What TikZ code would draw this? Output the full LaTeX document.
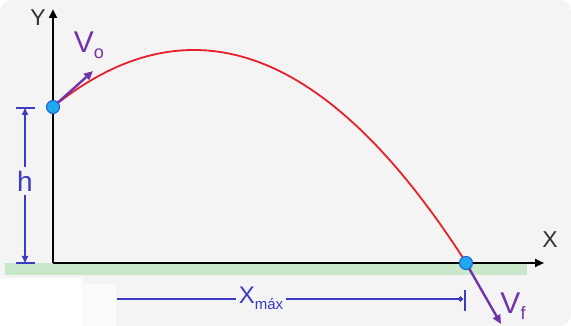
\documentclass[tikz,border=0pt]{standalone}
\usepackage{fontspec}
\setmainfont{Liberation Sans}
\usetikzlibrary{arrows.meta}
\definecolor{bggray}{HTML}{F4F4F4}
\definecolor{groundgreen}{HTML}{C9E8CB}
\definecolor{curvered}{HTML}{E8202A}
\definecolor{vecpurple}{HTML}{7034A8}
\definecolor{dimblue}{HTML}{3B3BC4}
\definecolor{ptblue}{HTML}{1FA8F0}
\definecolor{ptborder}{HTML}{1A5FD0}
\tikzset{
  axis/.style={line width=2.6pt, black, -{Triangle[length=9pt,width=8pt]}},
  vec/.style={line width=2.4pt, vecpurple, -{Triangle[length=9pt,width=8pt]}},
  dimline/.style={line width=1.6pt, dimblue},
  dimlab/.style={text=dimblue, inner sep=0pt},
  veclab/.style={text=vecpurple, inner sep=0pt},
  ptdot/.style={circle, fill=ptblue, draw=ptborder, line width=1pt, minimum size=13pt, inner sep=0pt},
}
\begin{document}
\begin{tikzpicture}[x=1pt,y=-1pt]
\useasboundingbox (0,0) rectangle (571,326);
\fill[bggray, rounded corners=12pt] (0,0) rectangle (571,326);
\fill[white] (0,278) rectangle (82,326);
\fill[white!60!bggray] (82,284) rectangle (116,326);
% ground
\fill[groundgreen] (5,263) rectangle (527,275);
% axes
\coordinate (O) at (53,263);
\coordinate (Ytop) at (53,9);
\coordinate (Xend) at (544,263);
\draw[axis] (O) -- (Ytop);
\draw[axis] (O) -- (Xend);
\node[inner sep=0pt, text=black!80, font=\fontsize{23}{23}\selectfont] (ylab) at (38,18) {Y};
\node[inner sep=0pt, text=black!80, font=\fontsize{23}{23}\selectfont] (xlab) at (550,240) {X};
% trajectory
\coordinate (A) at (53,107);
\coordinate (B) at (466,263);
\draw[curvered, line width=1.8pt] plot[domain=53:466, samples=80, smooth] (\x, {50+0.002875*(\x-193.8)*(\x-193.8)});
% velocity vectors
\coordinate (V0tip) at (93,71);
\coordinate (Vftip) at (501,324);
\draw[vec] (A) -- (V0tip);
\draw[vec] (B) -- (Vftip);
\node[veclab, font=\fontsize{30}{30}\selectfont] (v0) at (89,45) {V\raisebox{-0.35ex}{\fontsize{18}{18}\selectfont o}};
\node[veclab, font=\fontsize{30}{30}\selectfont] (vf) at (513,306) {V\raisebox{-0.4ex}{\fontsize{18}{18}\selectfont f}};
% points
\node[ptdot] (p0) at (A) {};
\node[ptdot] (p1) at (B) {};
% h dimension
\coordinate (hT) at (25,108);
\coordinate (hB) at (25,263);
\node[dimlab, font=\fontsize{28}{28}\selectfont] (hlab) at (25,181) {h};
\draw[dimline] (16,108) -- (35,108);
\draw[dimline] (16,263) -- (35,263);
\draw[dimline, -{Triangle[length=7pt,width=6pt]}] (hlab.north) ++(0,-4) -- (hT);
\draw[dimline, -{Triangle[length=7pt,width=6pt]}] (hlab.south) ++(0,4) -- (hB);
% X max dimension
\coordinate (xL) at (117,299);
\coordinate (xR) at (463,299);
\node[dimlab, font=\fontsize{24}{24}\selectfont] (xmax) at (261,298) {X\raisebox{-0.5ex}{\fontsize{15}{15}\selectfont máx}};
\draw[dimline] (xL) -- ([xshift=-3pt]xmax.west |- xL);
\draw[dimline, -{Circle[length=5pt]}] ([xshift=3pt]xmax.east |- xR) -- (xR);
\draw[dimline] (465,290) -- (465,311);
\end{tikzpicture}
\end{document}
